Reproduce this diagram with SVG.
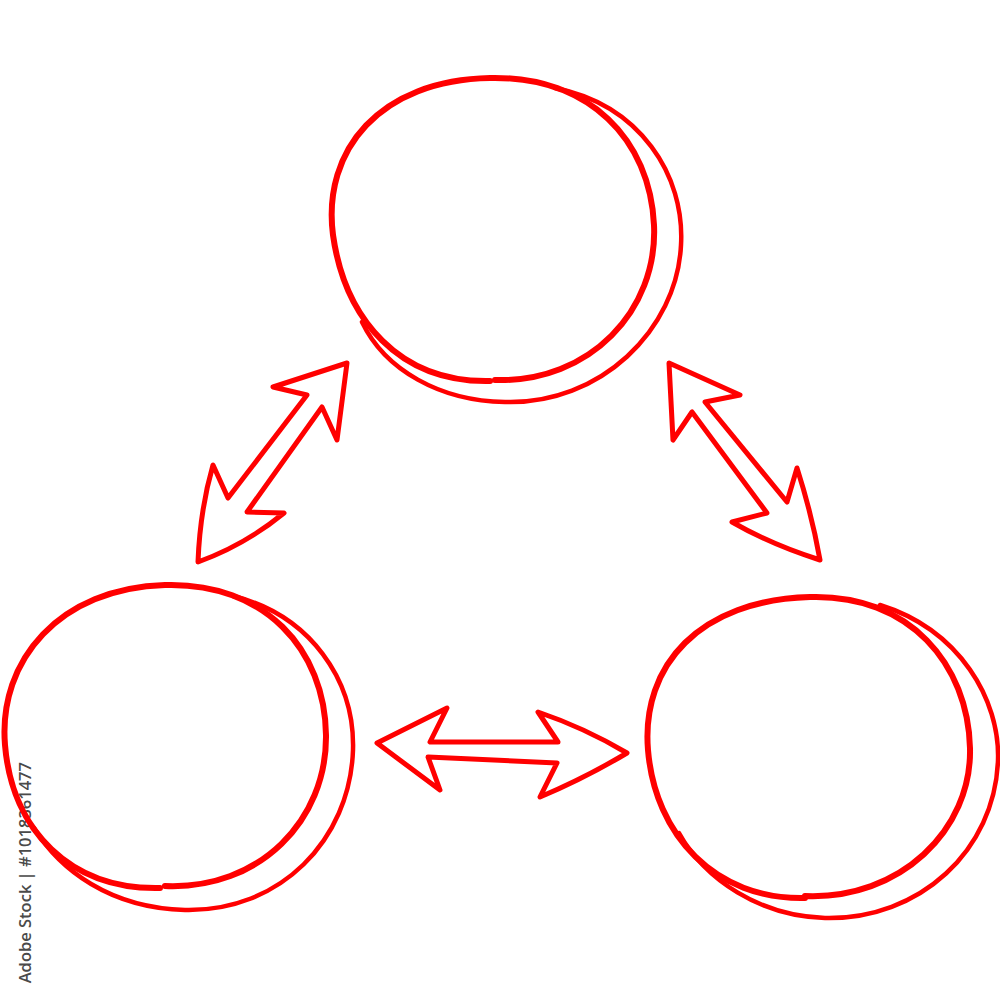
<svg xmlns="http://www.w3.org/2000/svg" width="1000" height="1000" viewBox="0 0 1000 1000">
<style>
.main{fill:none;stroke:#ff0000;stroke-width:6;stroke-linecap:round;stroke-linejoin:round}
.outer{fill:none;stroke:#ff0000;stroke-width:4.5;stroke-linecap:round;stroke-linejoin:round}
.arrow{fill:none;stroke:#ff0000;stroke-width:5;stroke-linecap:round;stroke-linejoin:round}
.wm{font-family:"Open Sans","Liberation Sans",sans-serif;font-size:16.5px;font-weight:600;fill:#4a4a4a}
</style>
<rect width="1000" height="1000" fill="#ffffff"/>
<text class="wm" transform="translate(31,762) rotate(-90)" text-anchor="end">Adobe Stock | #1018361477</text>
<g id="node-top">
<path class="main" d="M490,381 C400,383 345,320 333,235 C322,150 380,80 490,78 C590,76 650,140 654,225 C658,310 590,383 495,380"/>
<path class="outer" d="M555,88 C640,105 685,175 681,245 C677,330 600,405 505,402 C440,401 385,370 362,322"/>
</g>
<g id="node-left">
<path class="main" d="M160,888 C70,890 12,830 5,745 C-2,660 60,588 165,585 C265,582 325,650 326,735 C327,820 260,890 165,886"/>
<path class="outer" d="M233,596 C310,615 355,680 353,750 C350,840 280,912 185,910 C110,908 60,870 34,828"/>
</g>
<g id="node-right">
<path class="main" d="M805,898 C715,900 655,835 648,750 C641,665 700,600 810,597 C910,594 968,665 970,748 C972,830 900,900 805,896"/>
<path class="outer" d="M880,605 C960,630 1000,700 998,760 C995,850 920,920 825,918 C760,916 705,880 679,833"/>
</g>
<g id="connectors">
<path class="arrow" d="M347,363 L273,387 L307,395 L228,498 L213,465 Q200,510 198,562 Q245,545 284,513 L247,512 L322,407 L337,440 Z"/>
<path class="arrow" d="M669,363 L740,395 L705,402 L787,502 L797,468 Q812,515 820,560 Q772,545 732,522 L767,513 L692,412 L673,440 Z"/>
<path class="arrow" d="M377,743 L447,708 L430,742 L558,742 L538,712 Q585,728 627,753 Q585,778 540,797 L557,763 L428,757 L440,790 Z"/>
</g>
</svg>
